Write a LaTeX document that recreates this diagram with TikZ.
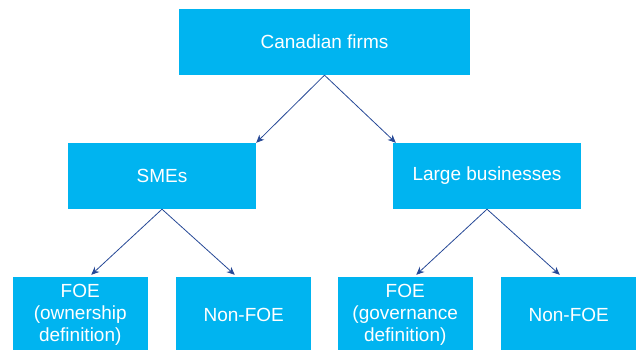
\documentclass[tikz,border=0pt]{standalone}
\usepackage{fontspec}
\setmainfont{Liberation Sans}
\usetikzlibrary{trees,arrows.meta,positioning}

\definecolor{boxblue}{RGB}{0,180,240}
\definecolor{arrowblue}{RGB}{38,72,150}

\begin{document}
\begin{tikzpicture}[
    x=1pt, y=1pt,
    every node/.style={align=center, text=white, font=\fontsize{19}{22}\selectfont},
    level 1/.style={level distance=134pt, sibling distance=325pt},   % root to middle row
    level 2/.style={level distance=139pt, sibling distance=163.5pt}, % middle row to leaves
    edge from parent/.style={draw=none},
    topBox/.style={fill=boxblue, minimum width=291pt, minimum height=66pt, inner sep=0pt},
    midBox/.style={fill=boxblue, minimum width=188pt, minimum height=66pt, inner sep=0pt},
    leafBox/.style={fill=boxblue, minimum width=135pt, minimum height=76pt, inner sep=0pt},
    treeArrow/.style={draw=arrowblue, line width=0.8pt, -{Stealth[length=8pt, width=7pt]}}
  ]

  \useasboundingbox (0,0) rectangle (637,350);

  % Firm tree
  \node[topBox] (firms) at (324.5,308) {Canadian firms}
  child {node[midBox] (smes) {SMEs}
      child {node[leafBox] (smeFoe) {FOE\\(ownership\\definition)}}
      child {node[leafBox] (smeNon) {Non-FOE}}
    }
  child {node[midBox] (large) {Large businesses}
      child {node[leafBox] (largeFoe) {FOE\\(governance\\definition)}}
      child {node[leafBox] (largeNon) {Non-FOE}}
    };

  % Arrows
  \draw[treeArrow] (firms.south) -- (smes.north east);
  \draw[treeArrow] (firms.south) -- ([xshift=3pt]large.north west);
  \draw[treeArrow] (smes.south) -- ([xshift=11pt, yshift=2pt]smeFoe.north);
  \draw[treeArrow] (smes.south) -- ([xshift=-9pt, yshift=2pt]smeNon.north);
  \draw[treeArrow] (large.south) -- ([xshift=11pt, yshift=2pt]largeFoe.north);
  \draw[treeArrow] (large.south) -- ([xshift=-9pt, yshift=2pt]largeNon.north);
\end{tikzpicture}
\end{document}
